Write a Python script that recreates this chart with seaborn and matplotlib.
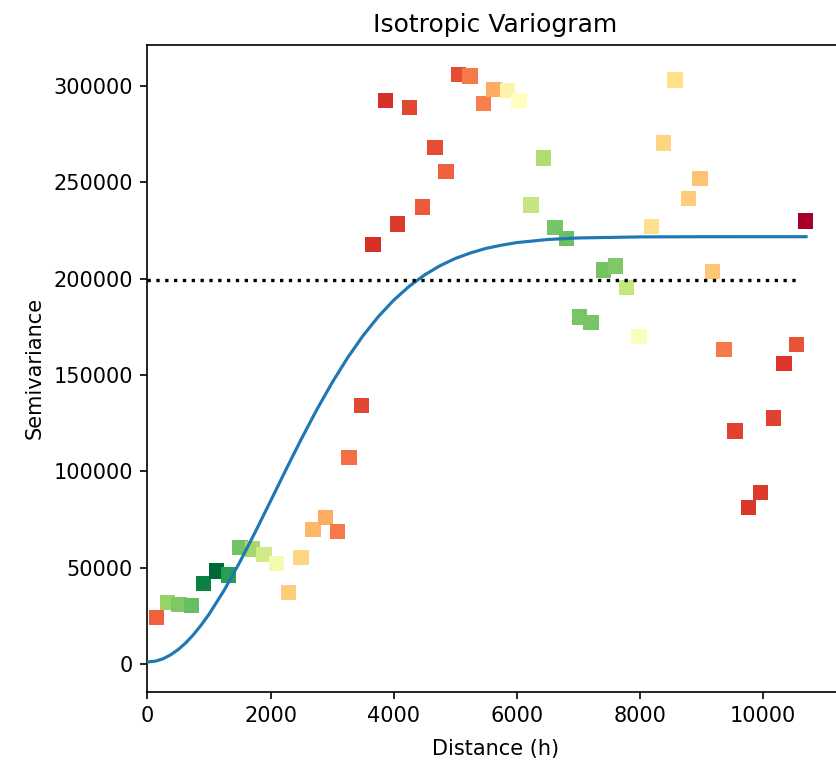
import matplotlib
matplotlib.use("Agg")
import matplotlib.pyplot as plt
import seaborn as sns
import pandas as pd

lag_distance = [151, 323, 513, 719, 909, 1125, 1315, 1504, 1710, 1894, 2100, 2289, 2495,
                2690, 2890, 3085, 3275, 3481, 3665, 3871, 4066, 4255, 4466, 4672, 4851,
                5057, 5240, 5456, 5630, 5846, 6036, 6231, 6431, 6621, 6811, 7020, 7206,
                7406, 7607, 7786, 7986, 8191, 8380, 8570, 8786, 8977, 9183, 9367, 9545,
                9761, 9963, 10167, 10341, 10548, 10693]
semivariance = [24200, 31900, 31100, 30600, 42000, 48400, 46300, 60500, 59800, 57000,
                52400, 37300, 55300, 69800, 76000, 68800, 107100, 134100, 217600, 292400,
                228300, 288600, 237000, 267900, 255400, 305900, 305000, 290900, 298100,
                297600, 292200, 238100, 262500, 226400, 220900, 180000, 177200, 204400,
                206500, 195500, 169900, 227100, 270300, 303000, 241600, 252000, 203600,
                163300, 121000, 81400, 89200, 127600, 156100, 165900, 229900]
# colour value on the RdYlGn scale (0 = dark red, 1 = dark green)
colour_value = [0.18, 0.72, 0.76, 0.80, 0.95, 1.00, 0.88, 0.78, 0.70, 0.62, 0.53, 0.36,
                0.38, 0.32, 0.30, 0.22, 0.20, 0.14, 0.10, 0.10, 0.12, 0.14, 0.17, 0.15,
                0.18, 0.15, 0.22, 0.23, 0.30, 0.46, 0.50, 0.64, 0.68, 0.77, 0.79, 0.77,
                0.77, 0.78, 0.76, 0.64, 0.51, 0.40, 0.38, 0.40, 0.36, 0.34, 0.35, 0.22,
                0.13, 0.11, 0.12, 0.13, 0.11, 0.16, 0.00]

# Fitted model curve
model_distance = [0, 125, 250, 375, 500, 625, 750, 875, 1000, 1250, 1500, 1750, 2000, 2250,
                  2500, 2750, 3000, 3250, 3500, 3750, 4000, 4250, 4500, 4750, 5000, 5250,
                  5500, 5750, 6000, 6500, 7000, 8000, 9000, 10000, 10700]
model_gamma = [1200, 1600, 2800, 4850, 7650, 11150, 15450, 20400, 25900, 38560, 52920,
               68460, 84610, 100870, 116770, 131920, 146020, 158840, 170260, 180220,
               188750, 195910, 201820, 206590, 210400, 213300, 215640, 217300, 218640,
               220250, 221050, 221590, 221690, 221700, 221700]

# Sample variance (sill reference)
variance_distance = [0, 10570]
variance_level = [199000, 199000]

exp_df = pd.DataFrame({"h": lag_distance, "gamma": semivariance, "c": colour_value})
mod_df = pd.DataFrame({"h": model_distance, "gamma": model_gamma})
var_df = pd.DataFrame({"h": variance_distance, "gamma": variance_level})

fig = plt.figure(figsize=(836 / 150, 760 / 150), dpi=150)
right_px = 843.0
ax = fig.add_axes([147.4 / 836, (760 - 691.7) / 760, (right_px - 147.4) / 836, (691.7 - 44.7) / 760])

sns.scatterplot(data=exp_df, x="h", y="gamma", hue="c", palette="RdYlGn", hue_norm=(0, 1),
                marker="s", s=55, linewidth=0, legend=False, ax=ax, zorder=2)
sns.lineplot(data=mod_df, x="h", y="gamma", color="#1f77b4", linewidth=1.5, ax=ax,
             estimator=None, zorder=3)
sns.lineplot(data=var_df, x="h", y="gamma", color="black", linestyle=":", linewidth=1.6,
             ax=ax, estimator=None, zorder=3)

ax.set_xlim(0, (right_px - 147.4) / 0.06156)
ax.set_ylim(-14206, 321250)
ax.spines["right"].set_visible(False)
ax.set_title("Isotropic Variogram", fontsize=12)
ax.set_xlabel("Distance (h)", fontsize=10, labelpad=6)
ax.set_ylabel("Semivariance", fontsize=10)
ax.tick_params(labelsize=10)

fig.savefig("out.png", dpi=150)
